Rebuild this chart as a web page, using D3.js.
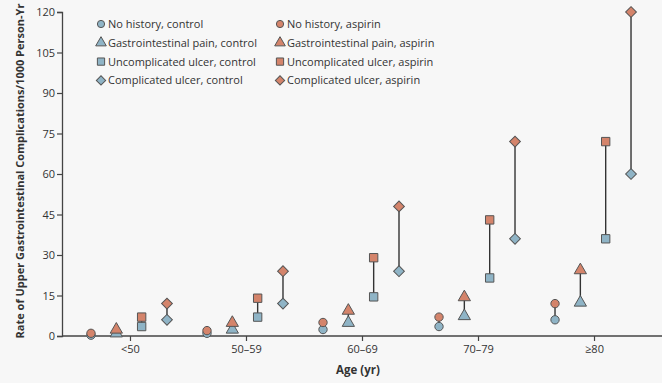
<!DOCTYPE html>
<html>
<head>
<meta charset="utf-8">
<script src="https://cdn.jsdelivr.net/npm/d3@7"></script>
<style>
  html, body { margin: 0; padding: 0; background: #f7f7f7; }
  svg { display: block; }
  text { font-family: "Open Sans", "Noto Sans", sans-serif; fill: #333; }
</style>
</head>
<body>
<svg id="chart" width="662" height="383"></svg>
<script>
// Age groups (x categories)
const ageGroups = ["<50", "50\u201359", "60\u201369", "70\u201379", "\u226580"];
// History types, each drawn with its own marker shape
const historyTypes = ["No history", "Gastrointestinal pain", "Uncomplicated ulcer", "Complicated ulcer"];
// Rates per 1000 person-years, one value per age group
const controlRates = {
  "No history":            [0.3, 1.0, 2.4, 3.5, 6],
  "Gastrointestinal pain": [0.6, 2.0, 4.5, 7.0, 12],
  "Uncomplicated ulcer":   [3.5, 7.0, 14.5, 21.5, 36],
  "Complicated ulcer":     [6.0, 12.0, 24.0, 36.0, 60]
};
const aspirinRates = {
  "No history":            [1.0, 2.0, 5.0, 7.0, 12],
  "Gastrointestinal pain": [2.0, 4.5, 9.0, 14.0, 24],
  "Uncomplicated ulcer":   [7.0, 14.0, 29.0, 43.0, 72],
  "Complicated ulcer":     [12.0, 24.0, 48.0, 72.0, 120]
};
const yTicks = [0, 15, 30, 45, 60, 75, 90, 105, 120];

const colors = { control: "#8fb4c6", aspirin: "#d4846b" };
// Diamonds are squares turned by 45 degrees
const symbolTypes = {
  "No history": d3.symbolCircle,
  "Gastrointestinal pain": d3.symbolTriangle,
  "Uncomplicated ulcer": d3.symbolSquare,
  "Complicated ulcer": d3.symbolSquare
};
const symbolRotation = { "No history": 0, "Gastrointestinal pain": 0, "Uncomplicated ulcer": 0, "Complicated ulcer": 45 };
const symbolSizes = {
  "No history": 55,
  "Gastrointestinal pain": 65,
  "Uncomplicated ulcer": 70,
  "Complicated ulcer": 58
};

const svg = d3.select("#chart");
const plot = { left: 62, right: 662, top: 12, bottom: 336 };

const x = d3.scalePoint().domain(ageGroups).range([plot.left, plot.right]).padding(0.586);
const offset = d3.scalePoint().domain(historyTypes).range([-39, 37]);
const y = d3.scaleLinear().domain([0, 120]).range([plot.bottom, plot.top]);

// Y axis
const yAxis = svg.append("g")
  .attr("transform", `translate(${plot.left},0)`)
  .call(d3.axisLeft(y).tickValues(yTicks).tickSize(5).tickPadding(2));
yAxis.select(".domain").attr("stroke", "#444").attr("stroke-width", 1.3);
yAxis.selectAll(".tick line").attr("stroke", "#444").attr("stroke-width", 1.2);
yAxis.selectAll("text").attr("font-size", 11).attr("fill", "#444")
  .style("font-family", "'Open Sans', sans-serif");

// X axis
const xAxis = svg.append("g")
  .attr("transform", `translate(0,${plot.bottom})`)
  .call(d3.axisBottom(x).tickSize(5).tickSizeOuter(0).tickPadding(4));
xAxis.select(".domain").attr("stroke", "#444").attr("stroke-width", 1.3)
  .attr("d", `M${plot.left},0H${plot.right}`);
xAxis.selectAll(".tick line").attr("stroke", "#444").attr("stroke-width", 1.2);
xAxis.selectAll("text").attr("font-size", 11).attr("fill", "#444")
  .style("font-family", "'Open Sans', sans-serif");

// Axis titles
svg.append("text")
  .attr("x", 358).attr("y", 374)
  .attr("text-anchor", "middle")
  .attr("font-size", 11.5).attr("font-weight", "bold")
  .text("Age (yr)");

svg.append("text")
  .attr("transform", `translate(24,${(plot.top + plot.bottom) / 2 - 3}) rotate(-90)`)
  .attr("text-anchor", "middle")
  .attr("font-size", 11).attr("font-weight", "bold")
  .text("Rate of Upper Gastrointestinal Complications/1000 Person-Yr");

// Control/aspirin pairs with connecting lines
const pairs = [];
ageGroups.forEach((g, gi) => {
  historyTypes.forEach(h => {
    pairs.push({ group: g, type: h, control: controlRates[h][gi], aspirin: aspirinRates[h][gi] });
  });
});

const px = d => x(d.group) + offset(d.type);

svg.append("g").selectAll("line")
  .data(pairs)
  .join("line")
  .attr("x1", px).attr("x2", px)
  .attr("y1", d => y(d.control)).attr("y2", d => y(d.aspirin))
  .attr("stroke", "#333").attr("stroke-width", 1.4);

const markers = [];
pairs.forEach(d => {
  markers.push({ ...d, arm: "control", value: d.control });
  markers.push({ ...d, arm: "aspirin", value: d.aspirin });
});

const shape = (d, scale) => d3.symbol().type(symbolTypes[d.type]).size(symbolSizes[d.type] * scale)();

svg.append("g").selectAll("path")
  .data(markers)
  .join("path")
  .attr("transform", d => `translate(${px(d)},${y(d.value) + (d.type === "Gastrointestinal pain" ? -1 : 0)}) rotate(${symbolRotation[d.type]})`)
  .attr("d", d => shape(d, 1))
  .attr("fill", d => colors[d.arm])
  .attr("stroke", "#555").attr("stroke-width", 1);

// Legend
const legendRows = [];
historyTypes.forEach((h, i) => {
  legendRows.push({ type: h, arm: "control", label: h + ", control", col: 0, row: i });
  legendRows.push({ type: h, arm: "aspirin", label: h + ", aspirin", col: 1, row: i });
});
const legend = svg.append("g");
const lg = legend.selectAll("g")
  .data(legendRows)
  .join("g")
  .attr("transform", d => `translate(${101 + d.col * 179},${24 + d.row * 18.8})`);
lg.append("path")
  .attr("transform", d => `rotate(${symbolRotation[d.type]})`)
  .attr("d", d => shape(d, 0.75))
  .attr("fill", d => colors[d.arm])
  .attr("stroke", "#555").attr("stroke-width", 1);
lg.append("text")
  .attr("x", 7).attr("y", 4)
  .attr("font-size", 11).attr("fill", "#333")
  .text(d => d.label);
</script>
</body>
</html>
